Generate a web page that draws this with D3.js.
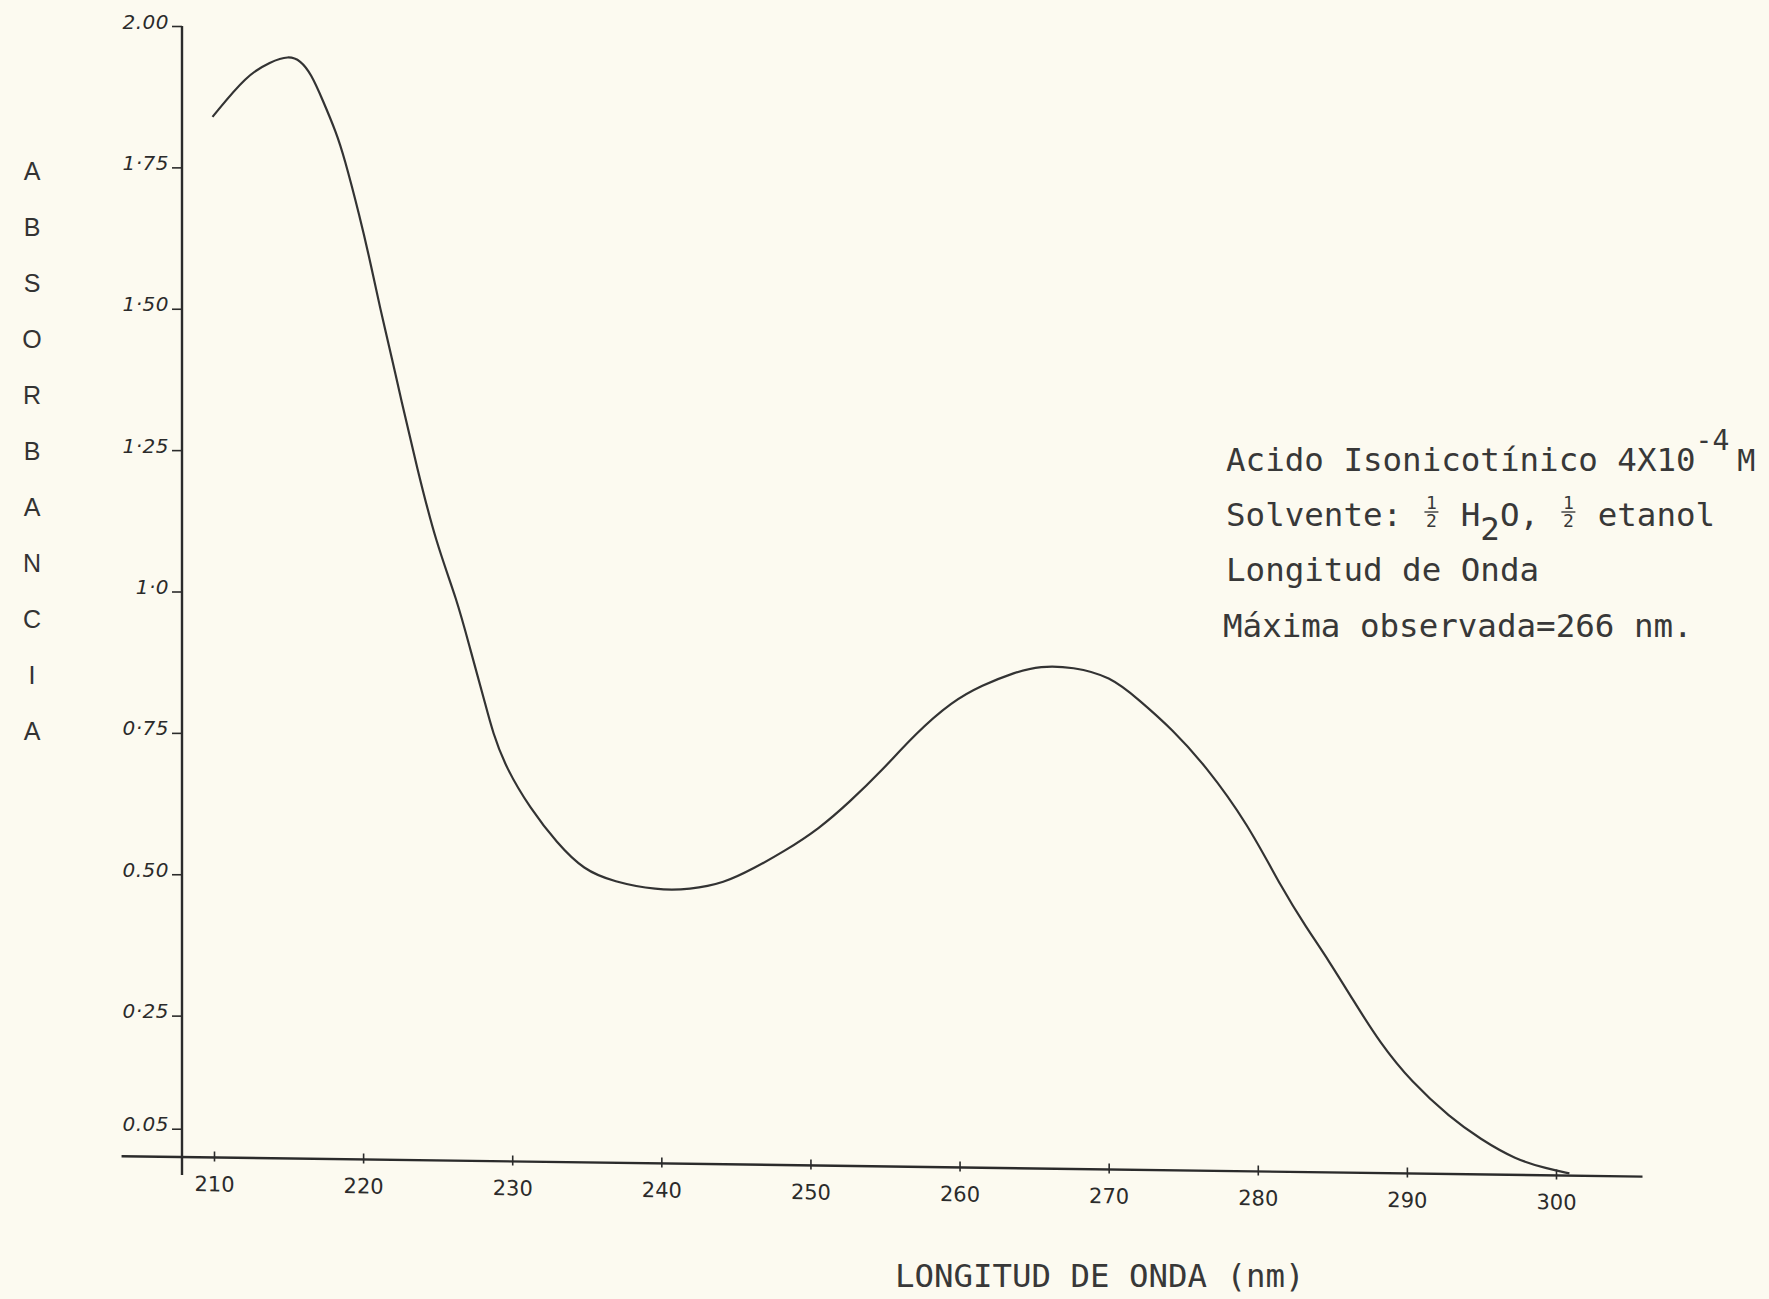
<!DOCTYPE html>
<html>
<head>
<meta charset="utf-8">
<script src="https://cdn.jsdelivr.net/npm/d3@7"></script>
<style>
  html, body { margin: 0; padding: 0; background: #fcfaf0; }
  svg { display: block; }
</style>
</head>
<body>
<svg id="chart" width="1769" height="1299"></svg>
<script>
/*
  UV spectrum of isonicotinic acid, hand drawn plot
*/

// wavelength (nm) and absorbance
const wavelength = [209.9, 212.2, 213.8, 215.0, 215.8, 216.5, 217.3, 218.2, 218.7, 219.8,
  220.5, 221.1, 222.0, 222.5, 223.6, 224.9, 226.3, 227.2, 228.1, 228.7,
  229.6, 231.2, 233.0, 234.8, 236.8, 239.7, 241.9, 244.2, 246.2, 248.2,
  250.6, 252.6, 254.8, 257.0, 259.5, 261.5, 263.7, 265.4, 267.6, 270.1,
  272.0, 274.3, 276.5, 279.3, 281.7, 283.2, 284.8, 286.4, 288.2, 290.3,
  292.9, 294.9, 297.3, 299.4, 300.9]
const absorbance = [1.840, 1.915, 1.939, 1.950, 1.942, 1.919, 1.872, 1.815, 1.775, 1.665,
  1.585, 1.510, 1.410, 1.350, 1.226, 1.091, 0.992, 0.903, 0.818, 0.757,
  0.695, 0.625, 0.564, 0.517, 0.497, 0.483, 0.485, 0.497, 0.524, 0.554,
  0.596, 0.643, 0.700, 0.765, 0.824, 0.853, 0.877, 0.889, 0.888, 0.872,
  0.832, 0.779, 0.716, 0.616, 0.497, 0.435, 0.373, 0.305, 0.230, 0.162,
  0.100, 0.063, 0.027, 0.012, 0.004]

const xTicks = [210, 220, 230, 240, 250, 260, 270, 280, 290, 300]
const yTicks = [2.00, 1.75, 1.50, 1.25, 1.0, 0.75, 0.50, 0.25, 0.05]
const yTickLabels = ["2.00", "1·75", "1·50", "1·25", "1·0", "0·75", "0.50", "0·25", "0.05"]

const yTitle = "ABSORBANCIA"
const xTitle = "LONGITUD DE ONDA (nm)"
const noteCompound = "Acido Isonicotínico 4X10"
const noteExponent = "-4"
const noteUnit = "M"
const noteLength = "Longitud de Onda"
const noteMax = "Máxima observada=266 nm."

// layout
const ink = "#2b2b2b"
const typeInk = "#383838"
const axisX = 182
const tiltDeg = 0.77      // the drawn wavelength axis sags slightly to the right
const xAxisSpan = [203.8, 305.8]
const mono = "'DejaVu Sans Mono', monospace"

const svg = d3.select("#chart")

const x = d3.scaleLinear().domain([210, 300]).range([214, 1556])
const y = d3.scaleLinear().domain([0, 2]).range([1157, 26])

// absorbance axis
svg.append("line")
  .attr("x1", axisX).attr("x2", axisX)
  .attr("y1", y(2)).attr("y2", y(0) + 18)
  .attr("stroke", ink).attr("stroke-width", 2.4)

const yAxis = d3.axisLeft(y)
  .tickValues(yTicks)
  .tickFormat((d, i) => yTickLabels[i])
  .tickSize(10)
  .tickPadding(3)

svg.append("g")
  .attr("transform", `translate(${axisX},0)`)
  .call(yAxis)
  .call(g => g.select(".domain").remove())
  .call(g => g.selectAll(".tick line").attr("stroke", ink).attr("stroke-width", 1.6))
  .call(g => g.selectAll(".tick text")
    .attr("dy", "0.1em")
    .attr("fill", ink)
    .style("font-family", "'DejaVu Sans', sans-serif")
    .style("font-style", "italic")
    .style("font-size", "20px")
    .style("letter-spacing", "0.5px"))

// plot area, sheared so the wavelength axis follows the drawing
const plot = svg.append("g")
  .attr("transform", `translate(${axisX},${y(0)}) skewY(${tiltDeg}) translate(${-axisX},${-y(0)})`)

plot.append("line")
  .attr("x1", x(xAxisSpan[0])).attr("x2", x(xAxisSpan[1]))
  .attr("y1", y(0)).attr("y2", y(0))
  .attr("stroke", ink).attr("stroke-width", 2.4)

const xAxis = d3.axisBottom(x)
  .tickValues(xTicks)
  .tickSize(0)
  .tickPadding(19)

plot.append("g")
  .attr("transform", `translate(0,${y(0)})`)
  .call(xAxis)
  .call(g => g.select(".domain").remove())
  .call(g => g.selectAll(".tick").append("line")
    .attr("y1", -6).attr("y2", 4)
    .attr("stroke", ink).attr("stroke-width", 1.6))
  .call(g => g.selectAll(".tick text")
    .attr("fill", ink)
    .style("font-family", "'DejaVu Sans', sans-serif")
    .style("font-size", "21px"))

const spectrum = wavelength.map((w, i) => [w, absorbance[i]])

plot.append("path")
  .datum(spectrum)
  .attr("fill", "none")
  .attr("stroke", "#333")
  .attr("stroke-width", 2.2)
  .attr("stroke-linejoin", "round")
  .attr("d", d3.line()
    .x(d => x(d[0]))
    .y(d => y(d[1]))
    .curve(d3.curveBasis))

// vertical title, one letter under the other
svg.append("g")
  .selectAll("text")
  .data(yTitle.split(""))
  .join("text")
  .attr("x", 32)
  .attr("y", (d, i) => 180 + i * 56)
  .attr("text-anchor", "middle")
  .attr("fill", "#333")
  .style("font-family", "'Liberation Sans', Arial, sans-serif")
  .style("font-size", "25px")
  .text(d => d)

svg.append("text")
  .attr("x", 895)
  .attr("y", 1287)
  .attr("fill", typeInk)
  .style("font-family", mono)
  .style("font-size", "32.4px")
  .text(xTitle)

// typed note
const note = svg.append("g")
  .attr("fill", typeInk)
  .style("font-family", mono)
  .style("font-size", "32.5px")
const noteX = 1226
const cell = 32.5 * 0.602
const lineY = [471, 526, 581, 637]

const first = note.append("text").attr("x", noteX).attr("y", lineY[0]).text(noteCompound)
first.append("tspan").attr("dy", -21).style("font-size", "28px").text(noteExponent)
first.append("tspan").attr("dy", 21).attr("dx", 8).style("font-size", "30px").text(noteUnit)

/**
 * fraction()
 * @description draws a stacked one-half in a typewriter cell
 */
function fraction(col, base) {
  const cx = noteX + (col + 0.5) * cell
  note.append("text").attr("x", cx).attr("y", base - 17)
    .attr("text-anchor", "middle").style("font-size", "18px").text("1")
  note.append("line")
    .attr("x1", cx - 7).attr("x2", cx + 7)
    .attr("y1", base - 14).attr("y2", base - 14)
    .attr("stroke", typeInk).attr("stroke-width", 1.4)
  note.append("text").attr("x", cx).attr("y", base + 1)
    .attr("text-anchor", "middle").style("font-size", "18px").text("2")
}

const b2 = lineY[1]
note.append("text").attr("x", noteX).attr("y", b2).text("Solvente:")
fraction(10, b2)
note.append("text").attr("x", noteX + 12 * cell).attr("y", b2).text("H")
note.append("text").attr("x", noteX + 13 * cell).attr("y", b2 + 14).text("2")
note.append("text").attr("x", noteX + 14 * cell).attr("y", b2).text("O,")
fraction(17, b2)
note.append("text").attr("x", noteX + 19 * cell).attr("y", b2).text("etanol")

note.append("text").attr("x", noteX).attr("y", lineY[2]).text(noteLength)
note.append("text").attr("x", noteX - 3).attr("y", lineY[3]).text(noteMax)
</script>
</body>
</html>
